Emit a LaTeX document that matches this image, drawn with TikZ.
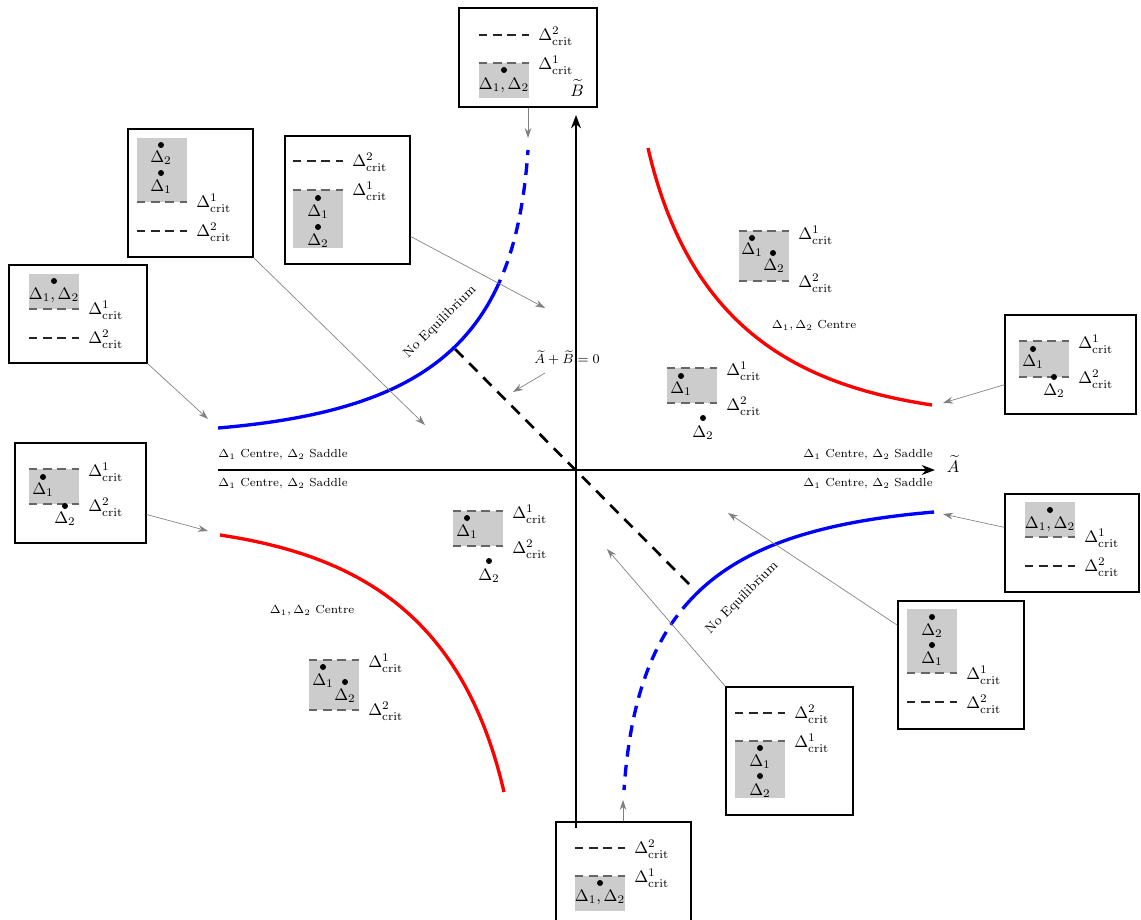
\documentclass[tikz,border=0pt]{standalone}
\usepackage{amsmath, amssymb}
\usetikzlibrary{arrows.meta, fit}

\tikzset{
  framebox/.style={draw, thick, inner sep=0pt},
  stabfill/.style={fill=black!20},
  critedge/.style={black!60, thick, dash pattern=on 5pt off 3.5pt},
  critline/.style={black!85, thick, dash pattern=on 5pt off 3.5pt},
  critlbl/.style={anchor=west, inner sep=0pt},
  eiglbl/.style={inner sep=0pt},
  regionlbl/.style={font=\scriptsize, inner sep=0pt},
  pointer/.style={black!50, -{Stealth[length=6pt, width=4pt]}},
  axis/.style={line width=1pt, -{Stealth[length=8pt, width=6pt]}},
}

\begin{document}
\begin{tikzpicture}[x=0.6pt, y=-0.6pt]
  \clip (0,0) rectangle (1141,919);

  % Axes
  \draw[axis] (218,470) -- (935,470);
  \node (Alabel) at (953,464) {$\widetilde{A}$};
  \draw[axis] (576,828) -- (576,115);
  \node (Blabel) at (577,88) {$\widetilde{B}$};

  % Line A + B = 0
  \draw[line width=1.6pt, dash pattern=on 7pt off 5pt] (455,349) -- (693,588);
  \node[font=\footnotesize] (sumlbl) at (567,358) {$\widetilde{A}+\widetilde{B}=0$};
  \coordinate (sumtip) at (513,392);
  \draw[pointer] (545,373) -- (sumtip);

  % Centre branches
  \draw[red, line width=2pt] (648,148) .. controls (690,330) and (800,385) .. (932,405);
  \draw[red, line width=2pt] (504,792) .. controls (462,610) and (352,555) .. (220,535);

  % No equilibrium branches (solid part, then dashed part)
  \draw[blue, line width=2pt] (218,428) .. controls (366.4,415.4) and (452.6,377.1) .. (495.5,290.4);
  \draw[blue, line width=2pt, dash pattern=on 7pt off 5pt] (495.5,290.4) .. controls (513.9,253.2) and (524.1,207) .. (528,150);
  \draw[blue, line width=2pt] (934,512) .. controls (817.4,521.9) and (739.2,547.2) .. (690.3,600);
  \draw[blue, line width=2pt, dash pattern=on 7pt off 5pt] (690.3,600) .. controls (650.3,643.2) and (629.85,704.5) .. (624,790);
  \node[font=\footnotesize, rotate=45] (noeqA) at (440,322) {No Equilibrium};
  \node[font=\footnotesize, rotate=45] (noeqB) at (742,598) {No Equilibrium};

  % Region labels
  \node[regionlbl, anchor=west] (lblWa) at (218,455) {$\Delta_1$ Centre, $\Delta_2$ Saddle};
  \node[regionlbl, anchor=west] (lblWb) at (218,484) {$\Delta_1$ Centre, $\Delta_2$ Saddle};
  \node[regionlbl, anchor=east] (lblEa) at (933,455) {$\Delta_1$ Centre, $\Delta_2$ Saddle};
  \node[regionlbl, anchor=east] (lblEb) at (933,484) {$\Delta_1$ Centre, $\Delta_2$ Saddle};
  \node[regionlbl] (lblNE) at (814,326) {$\Delta_1,\Delta_2$ Centre};
  \node[regionlbl] (lblSW) at (312,611) {$\Delta_1,\Delta_2$ Centre};

  % Unboxed sketches
  \fill[stabfill] (739,231) rectangle (789,281);
  \draw[critedge] (739,231) -- (789,231);
  \draw[critedge] (739,281) -- (789,281);
  \node[critlbl] (ne1) at (798,235) {$\Delta^1_{\mathrm{crit}}$};
  \node[critlbl] (ne2) at (798,283) {$\Delta^2_{\mathrm{crit}}$};
  \fill (752,238) circle (1.8pt);
  \fill (773,253) circle (1.8pt);
  \node[eiglbl] (neA) at (752,250) {$\Delta_1$};
  \node[eiglbl] (neB) at (774,266) {$\Delta_2$};

  \fill[stabfill] (667,368) rectangle (717,403);
  \draw[critedge] (667,368) -- (717,368);
  \draw[critedge] (667,403) -- (717,403);
  \node[critlbl] (ce1) at (726,371) {$\Delta^1_{\mathrm{crit}}$};
  \node[critlbl] (ce2) at (726,406) {$\Delta^2_{\mathrm{crit}}$};
  \fill (681,376) circle (1.8pt);
  \fill (703,418) circle (1.8pt);
  \node[eiglbl] (ceA) at (681,389) {$\Delta_1$};
  \node[eiglbl] (ceB) at (703,433) {$\Delta_2$};

  \fill[stabfill] (453,511) rectangle (503,546);
  \draw[critedge] (453,511) -- (503,511);
  \draw[critedge] (453,546) -- (503,546);
  \node[critlbl] (cw1) at (512,514) {$\Delta^1_{\mathrm{crit}}$};
  \node[critlbl] (cw2) at (512,549) {$\Delta^2_{\mathrm{crit}}$};
  \fill (467,518) circle (1.8pt);
  \fill (489,561) circle (1.8pt);
  \node[eiglbl] (cwA) at (467,532) {$\Delta_1$};
  \node[eiglbl] (cwB) at (489,576) {$\Delta_2$};

  \fill[stabfill] (309,660) rectangle (359,710);
  \draw[critedge] (309,660) -- (359,660);
  \draw[critedge] (309,710) -- (359,710);
  \node[critlbl] (sw1) at (368,663) {$\Delta^1_{\mathrm{crit}}$};
  \node[critlbl] (sw2) at (368,711) {$\Delta^2_{\mathrm{crit}}$};
  \fill (323,667) circle (1.8pt);
  \fill (345,682) circle (1.8pt);
  \node[eiglbl] (swA) at (323,681) {$\Delta_1$};
  \node[eiglbl] (swB) at (345,696) {$\Delta_2$};

  % Box on the B axis
  \node[framebox, fit={(459,8) (597,107)}] (boxN) {};
  \draw[critline] (479,35) -- (529,35);
  \node[critlbl] (boxN2) at (538,36) {$\Delta^2_{\mathrm{crit}}$};
  \fill[stabfill] (479,63) rectangle (529,98);
  \draw[critedge] (479,63) -- (529,63);
  \node[critlbl] (boxN1) at (538,65) {$\Delta^1_{\mathrm{crit}}$};
  \fill (504,70) circle (1.8pt);
  \node[eiglbl] (boxNe) at (504,85) {$\Delta_1,\Delta_2$};
  \coordinate (boxNtip) at (528,138);
  \draw[pointer] (boxN.south -| boxNtip) -- (boxNtip);

  % Upper left boxes
  \node[framebox, fit={(128,129) (253,257)}] (boxB) {};
  \fill[stabfill] (137,138) rectangle (187,202);
  \draw[critedge] (137,202) -- (187,202);
  \fill (161,145) circle (1.8pt);
  \fill (161,173) circle (1.8pt);
  \node[eiglbl] (boxBb) at (161,158) {$\Delta_2$};
  \node[eiglbl] (boxBa) at (161,187) {$\Delta_1$};
  \node[critlbl] (boxB1) at (196,203) {$\Delta^1_{\mathrm{crit}}$};
  \draw[critline] (137,231) -- (187,231);
  \node[critlbl] (boxB2) at (196,232) {$\Delta^2_{\mathrm{crit}}$};
  \coordinate (boxBtip) at (425,425);
  \draw[pointer] (boxB.south east) -- (boxBtip);

  \node[framebox, fit={(285,136) (410,264)}] (boxC) {};
  \draw[critline] (293,161) -- (343,161);
  \node[critlbl] (boxC2) at (352,162) {$\Delta^2_{\mathrm{crit}}$};
  \fill[stabfill] (293,190) rectangle (343,248);
  \draw[critedge] (293,190) -- (343,190);
  \node[critlbl] (boxC1) at (352,191) {$\Delta^1_{\mathrm{crit}}$};
  \fill (318,198) circle (1.8pt);
  \fill (318,227) circle (1.8pt);
  \node[eiglbl] (boxCa) at (318,212) {$\Delta_1$};
  \node[eiglbl] (boxCb) at (318,241) {$\Delta_2$};
  \coordinate (boxCtip) at (545,308);
  \draw[pointer] (boxC.-30) -- (boxCtip);

  \node[framebox, fit={(9,265) (147,363)}] (boxW) {};
  \fill[stabfill] (29,274) rectangle (79,309);
  \draw[critedge] (29,309) -- (79,309);
  \fill (54,281) circle (1.8pt);
  \node[eiglbl] (boxWe) at (54,295) {$\Delta_1,\Delta_2$};
  \node[critlbl] (boxW1) at (88,310) {$\Delta^1_{\mathrm{crit}}$};
  \draw[critline] (29,338) -- (79,338);
  \node[critlbl] (boxW2) at (88,339) {$\Delta^2_{\mathrm{crit}}$};
  \coordinate (boxWtip) at (208,419);
  \draw[pointer] (boxW.south east) -- (boxWtip);

  % Lower left box
  \node[framebox, fit={(15,443) (146,543)}] (boxSW) {};
  \fill[stabfill] (29,469) rectangle (79,504);
  \draw[critedge] (29,469) -- (79,469);
  \draw[critedge] (29,504) -- (79,504);
  \fill (43,477) circle (1.8pt);
  \fill (65,506) circle (1.8pt);
  \node[eiglbl] (boxSWa) at (43,490) {$\Delta_1$};
  \node[eiglbl] (boxSWb) at (65,519) {$\Delta_2$};
  \node[critlbl] (boxSW1) at (88,472) {$\Delta^1_{\mathrm{crit}}$};
  \node[critlbl] (boxSW2) at (88,507) {$\Delta^2_{\mathrm{crit}}$};
  \coordinate (boxSWtip) at (208,531);
  \draw[pointer] (boxSW.-18) -- (boxSWtip);

  % Right boxes
  \node[framebox, fit={(1005,315) (1136,414)}] (boxE) {};
  \fill[stabfill] (1019,341) rectangle (1069,377);
  \draw[critedge] (1019,341) -- (1069,341);
  \draw[critedge] (1019,377) -- (1069,377);
  \fill (1033,349) circle (1.8pt);
  \fill (1054,377) circle (1.8pt);
  \node[eiglbl] (boxEa) at (1033,362) {$\Delta_1$};
  \node[eiglbl] (boxEb) at (1054,391) {$\Delta_2$};
  \node[critlbl] (boxE1) at (1078,344) {$\Delta^1_{\mathrm{crit}}$};
  \node[critlbl] (boxE2) at (1078,379) {$\Delta^2_{\mathrm{crit}}$};
  \coordinate (boxEtip) at (943,403);
  \draw[pointer] (boxE.197) -- (boxEtip);

  \node[framebox, fit={(1005,494) (1139,592)}] (boxSE) {};
  \fill[stabfill] (1025,502) rectangle (1075,537);
  \draw[critedge] (1025,537) -- (1075,537);
  \fill (1050,510) circle (1.8pt);
  \node[eiglbl] (boxSEe) at (1050,524) {$\Delta_1,\Delta_2$};
  \node[critlbl] (boxSE1) at (1084,538) {$\Delta^1_{\mathrm{crit}}$};
  \draw[critline] (1025,566) -- (1075,566);
  \node[critlbl] (boxSE2) at (1084,567) {$\Delta^2_{\mathrm{crit}}$};
  \coordinate (boxSEtip) at (943,514);
  \draw[pointer] (boxSE.167) -- (boxSEtip);

  \node[framebox, fit={(898,601) (1024,729)}] (boxR) {};
  \fill[stabfill] (907,609) rectangle (957,673);
  \draw[critedge] (907,673) -- (957,673);
  \fill (932,617) circle (1.8pt);
  \fill (932,645) circle (1.8pt);
  \node[eiglbl] (boxRb) at (932,631) {$\Delta_2$};
  \node[eiglbl] (boxRa) at (932,659) {$\Delta_1$};
  \node[critlbl] (boxR1) at (966,675) {$\Delta^1_{\mathrm{crit}}$};
  \draw[critline] (907,702) -- (957,702);
  \node[critlbl] (boxR2) at (966,704) {$\Delta^2_{\mathrm{crit}}$};
  \coordinate (boxRtip) at (728,513);
  \draw[pointer] (boxR.148) -- (boxRtip);

  % Lower boxes
  \node[framebox, fit={(726,687) (853,815)}] (boxD) {};
  \draw[critline] (735,713) -- (785,713);
  \node[critlbl] (boxD2) at (794,714) {$\Delta^2_{\mathrm{crit}}$};
  \fill[stabfill] (735,741) rectangle (785,798);
  \draw[critedge] (735,741) -- (785,741);
  \node[critlbl] (boxD1) at (794,743) {$\Delta^1_{\mathrm{crit}}$};
  \fill (760,748) circle (1.8pt);
  \fill (760,776) circle (1.8pt);
  \node[eiglbl] (boxDa) at (760,762) {$\Delta_1$};
  \node[eiglbl] (boxDb) at (760,791) {$\Delta_2$};
  \coordinate (boxDtip) at (607,549);
  \draw[pointer] (boxD.north west) -- (boxDtip);

  \node[framebox, fit={(556,822) (691,930)}] (boxS) {};
  \draw[critline] (575,848) -- (625,848);
  \node[critlbl] (boxS2) at (634,849) {$\Delta^2_{\mathrm{crit}}$};
  \fill[stabfill] (575,876) rectangle (625,911);
  \draw[critedge] (575,876) -- (625,876);
  \node[critlbl] (boxS1) at (634,878) {$\Delta^1_{\mathrm{crit}}$};
  \fill (600,883) circle (1.8pt);
  \node[eiglbl] (boxSe) at (600,897) {$\Delta_1,\Delta_2$};
  \coordinate (boxStip) at (623,800);
  \draw[pointer] (boxS.north -| boxStip) -- (boxStip);

\end{tikzpicture}
\end{document}
